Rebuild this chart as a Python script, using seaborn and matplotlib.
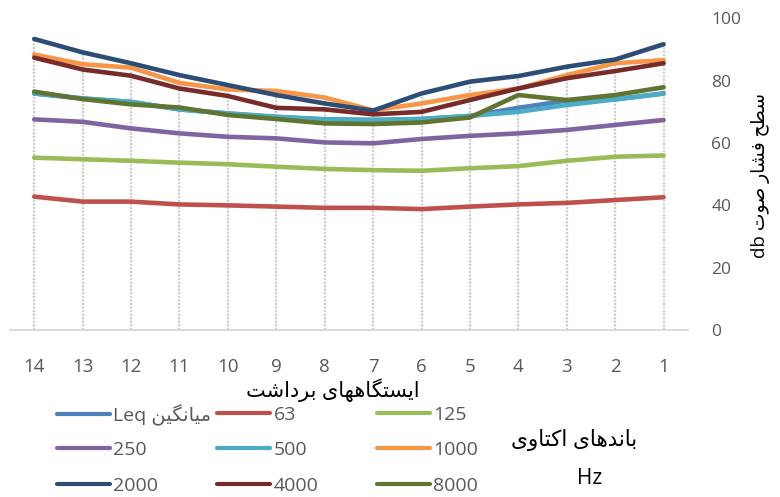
import numpy as np
import pandas as pd
import matplotlib
matplotlib.use("Agg")
import matplotlib.pyplot as plt
import seaborn as sns
from matplotlib.lines import Line2D


# data (stations listed left to right as in the chart)
stations = [14, 13, 12, 11, 10, 9, 8, 7, 6, 5, 4, 3, 2, 1]

leq   = [75.9, 74.3, 73.2, 70.8, 69.5, 68.4, 67.6, 67.4, 67.7, 68.7, 71.3, 73.6, 74.0, 75.9]
b63   = [42.8, 41.2, 41.2, 40.3, 40.0, 39.6, 39.2, 39.2, 38.8, 39.6, 40.3, 40.8, 41.7, 42.6]
b125  = [55.3, 54.8, 54.3, 53.7, 53.2, 52.4, 51.7, 51.3, 51.1, 51.9, 52.6, 54.3, 55.6, 56.0]
b250  = [67.6, 66.8, 64.7, 63.1, 62.0, 61.5, 60.2, 59.9, 61.3, 62.3, 63.1, 64.2, 65.8, 67.4]
b500  = [75.9, 74.3, 73.2, 70.8, 69.5, 68.4, 67.6, 67.4, 67.7, 68.7, 70.0, 72.2, 74.0, 75.9]
b1000 = [88.4, 85.3, 84.2, 79.3, 77.2, 76.7, 74.6, 70.5, 72.7, 75.4, 77.5, 81.8, 85.6, 86.6]
b2000 = [93.4, 89.1, 85.6, 81.8, 78.6, 75.4, 72.7, 70.4, 75.9, 79.7, 81.5, 84.5, 86.8, 91.7]
b4000 = [87.4, 83.6, 81.6, 77.5, 75.1, 71.3, 70.8, 69.2, 70.0, 73.8, 77.5, 80.8, 83.1, 85.6]
b8000 = [76.5, 74.1, 72.4, 71.4, 69.0, 67.7, 66.3, 66.1, 66.6, 68.2, 75.4, 73.8, 75.4, 77.9]

bands = ["Leq", "63", "125", "250", "500", "1000", "2000", "4000", "8000"]
series = [leq, b63, b125, b250, b500, b1000, b2000, b4000, b8000]
colors = ["#4F81BD", "#C0504D", "#9BBB59", "#8064A2", "#4BACC6",
          "#F79646", "#2C4D75", "#772C2A", "#5F7530"]


### tiny Persian shaper (matplotlib has no complex text layout)
FORMS = {
    'ا': ('\uFE8D', '\uFE8E', None, None),
    'ب': ('\uFE8F', '\uFE90', '\uFE91', '\uFE92'),
    'ت': ('\uFE95', '\uFE96', '\uFE97', '\uFE98'),
    'ح': ('\uFEA1', '\uFEA2', '\uFEA3', '\uFEA4'),
    'د': ('\uFEA9', '\uFEAA', None, None),
    'ر': ('\uFEAD', '\uFEAE', None, None),
    'س': ('\uFEB1', '\uFEB2', '\uFEB3', '\uFEB4'),
    'ش': ('\uFEB5', '\uFEB6', '\uFEB7', '\uFEB8'),
    'ص': ('\uFEB9', '\uFEBA', '\uFEBB', '\uFEBC'),
    'ط': ('\uFEC1', '\uFEC2', '\uFEC3', '\uFEC4'),
    'ف': ('\uFED1', '\uFED2', '\uFED3', '\uFED4'),
    'م': ('\uFEE1', '\uFEE2', '\uFEE3', '\uFEE4'),
    'ن': ('\uFEE5', '\uFEE6', '\uFEE7', '\uFEE8'),
    'ه': ('\uFEE9', '\uFEEA', '\uFEEB', '\uFEEC'),
    'و': ('\uFEED', '\uFEEE', None, None),
    'ی': ('\uFBFC', '\uFBFD', '\uFBFE', '\uFBFF'),
    'ک': ('\uFB8E', '\uFB8F', '\uFB90', '\uFB91'),
    'گ': ('\uFB92', '\uFB93', '\uFB94', '\uFB95'),
}


def rtl(text):
    out = []
    for i, ch in enumerate(text):
        if ch not in FORMS:
            out.append(ch)
            continue
        f = FORMS[ch]
        prev = text[i - 1] if i > 0 else None
        nxt = text[i + 1] if i < len(text) - 1 else None
        jp = prev in FORMS and FORMS[prev][2] is not None
        jn = f[2] is not None and nxt in FORMS
        if jp and jn:
            out.append(f[3])
        elif jp:
            out.append(f[1])
        elif jn:
            out.append(f[2])
        else:
            out.append(f[0])
    return ''.join(out)[::-1]


df = pd.DataFrame({
    "station": stations * len(bands),
    "value": np.concatenate(series),
    "band": np.repeat(bands, len(stations)),
})

sns.set_style("white")
plt.rcParams['font.family'] = ['Open Sans', 'DejaVu Sans']
gray = "#595959"

fig = plt.figure(figsize=(7.8, 4.97), dpi=100)
ax = fig.add_axes([0.0128, 0.336, 0.869, 0.627])

# drop lines from the highest series to the axis
tops = np.max(np.array(series), axis=0)
ax.vlines(stations, 0, tops, color="#CFCFCF", lw=1.6,
          linestyle=(0, (1, 0.6)), zorder=1)

sns.lineplot(data=df, x="station", y="value", hue="band", hue_order=bands,
             palette=dict(zip(bands, colors)), linewidth=3.3, legend=False,
             ax=ax, solid_capstyle="round", zorder=3)

ax.set_xlim(14.5, 0.5)
ax.set_ylim(0, 100)
ax.set_xticks(stations)
ax.set_xticklabels([str(s) for s in stations])
ax.set_yticks(range(0, 101, 20))
ax.yaxis.tick_right()
ax.tick_params(axis="x", length=0, pad=20, labelsize=13.5, labelcolor=gray)
ax.tick_params(axis="y", length=0, pad=17, labelsize=12.5, labelcolor=gray)
for side in ["left", "right", "top"]:
    ax.spines[side].set_visible(False)
ax.spines["bottom"].set_color("#D9D9D9")
ax.spines["bottom"].set_linewidth(1.3)
ax.set_xlabel("")
ax.set_ylabel("")

fig.text(333 / 780, 1 - 390 / 497, rtl("ایستگاههای برداشت"),
         ha="center", va="center", fontsize=15, color="black")
fig.text(761 / 780, 1 - 175 / 497, "db " + rtl("سطح فشار صوت"),
         rotation=90, ha="center", va="center", fontsize=13.5, color="black")
fig.text(574 / 780, 1 - 440 / 497, rtl("باندهای اکتاوی"),
         ha="center", va="center", fontsize=15.5, color="black")
fig.text(590 / 780, 1 - 478 / 497, "Hz",
         ha="center", va="center", fontsize=15, color="black")

# legend: 3 x 3 grid, one small legend per entry so rows line up
labels = ["Leq " + rtl("میانگین")] + bands[1:]
col_x = [57, 217, 377]
row_y = [415, 450, 486]
for i, (lab, c) in enumerate(zip(labels, colors)):
    r, k = divmod(i, 3)
    h = Line2D([], [], color=c, lw=3, solid_capstyle="round")
    leg = fig.legend([h], [lab], loc="center left",
                     bbox_to_anchor=(col_x[k] / 780, 1 - row_y[r] / 497),
                     frameon=False, fontsize=14, handlelength=2.7,
                     handletextpad=0.2, borderaxespad=0, borderpad=0)
    leg.get_texts()[0].set_color(gray)

fig.savefig("out.png", dpi=100)
